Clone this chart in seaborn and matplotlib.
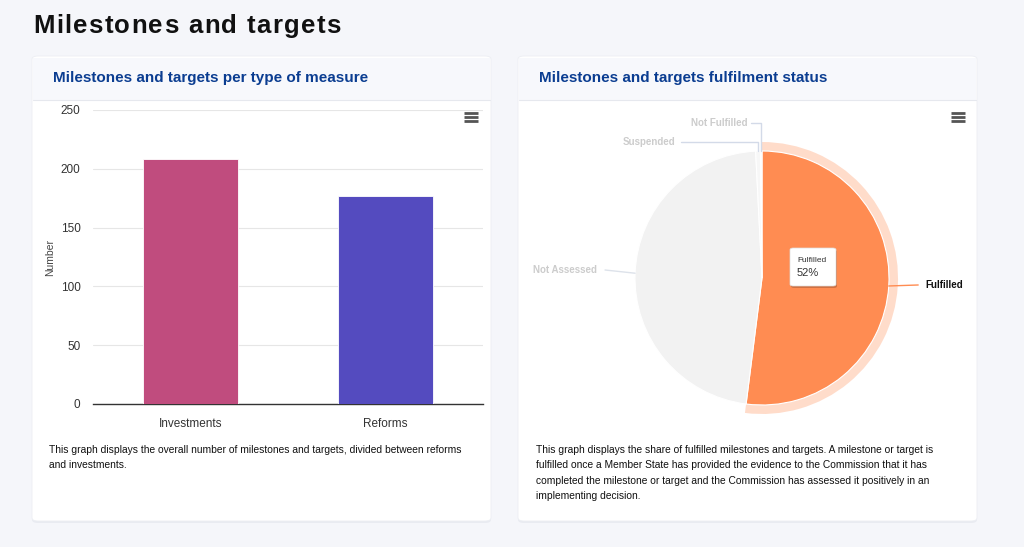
import numpy as np
import pandas as pd
import matplotlib
matplotlib.use("Agg")
import matplotlib.pyplot as plt
import seaborn as sns
from matplotlib.patches import FancyBboxPatch, Wedge, Rectangle
from matplotlib.lines import Line2D

# Donnees
MEASURE_TYPES = ["Investments", "Reforms"]
MEASURE_COUNTS = [208, 177]
MEASURE_COLORS = ["#c04c7e", "#544bbf"]
Y_TICKS = [0, 50, 100, 150, 200, 250]

STATUS_LABELS = ["Fulfilled", "Not Assessed", "Suspended", "Not Fulfilled"]
STATUS_SHARES = [52.0, 47.2, 0.6, 0.2]
STATUS_COLORS = ["#ff8c52", "#f2f2f2", "#f7f7f7", "#fbfbfb"]

W, H = 1024, 547
BG = "#f5f6fa"
TITLE_BLUE = "#0b3d91"

sns.set_theme(style="white")
plt.rcParams["font.family"] = ["Liberation Sans", "DejaVu Sans"]


def fx(x):
    return x / W


def fy(y):
    return 1 - y / H


def card(fig, x0, y0, x1, y1, title):
    # ombre + carte + bandeau (sous les axes)
    shadow = FancyBboxPatch((fx(x0), fy(y1 + 2)), fx(x1 - x0), (y1 - y0) / H,
                            boxstyle="round,pad=0,rounding_size=0.006",
                            transform=fig.transFigure, fc="#e9ebf1", ec="none", zorder=-4)
    fig.add_artist(shadow)
    box = FancyBboxPatch((fx(x0), fy(y1)), fx(x1 - x0), (y1 - y0) / H,
                         boxstyle="round,pad=0,rounding_size=0.006",
                         transform=fig.transFigure, fc="white", ec="#eceef3", lw=0.6, zorder=-3)
    fig.add_artist(box)
    head = Rectangle((fx(x0 + 1), fy(100)), fx(x1 - x0 - 2), (100 - y0 - 2) / H,
                     transform=fig.transFigure, fc="#f7f8fc", ec="none", zorder=-2)
    fig.add_artist(head)
    fig.add_artist(Line2D([fx(x0 + 1), fx(x1 - 1)], [fy(100), fy(100)],
                          transform=fig.transFigure, color="#e6e8ee", lw=0.8, zorder=-1))
    fig.text(fx(x0 + 21), fy(78), title, fontsize=11, fontweight="bold",
             color=TITLE_BLUE, va="center", ha="left")


def burger(fig, x, y):
    for dy in (-4, 0, 4):
        fig.add_artist(Line2D([fx(x - 7), fx(x + 7)], [fy(y + dy), fy(y + dy)],
                              transform=fig.transFigure, color="#555555", lw=2,
                              solid_capstyle="butt", zorder=5))


def spaced_text(fig, x, y, s, tracking, **kw):
    # texte avec espacement des lettres (pas de letter-spacing dans matplotlib)
    renderer = fig.canvas.get_renderer()
    for ch in s:
        t = fig.text(fx(x), fy(y), ch, ha="left", va="baseline", **kw)
        if ch == " ":
            probe = fig.text(0, 0, "a a", **kw)
            probe2 = fig.text(0, 0, "aa", **kw)
            adv = probe.get_window_extent(renderer).width - probe2.get_window_extent(renderer).width
            probe.remove()
            probe2.remove()
        else:
            adv = t.get_window_extent(renderer).width
        x += adv + tracking


fig = plt.figure(figsize=(W / 100, H / 100), dpi=100, facecolor=BG)

spaced_text(fig, 33, 33, "Milestones and targets", 1.35, fontsize=18.5, fontweight="bold",
            color="#111111")

card(fig, 32, 56, 491, 521, "Milestones and targets per type of measure")
card(fig, 518, 56, 977, 521, "Milestones and targets fulfilment status")
burger(fig, 471, 117)
burger(fig, 958, 117)

# --- Barres ---
ax = fig.add_axes([fx(93), fy(404), fx(483 - 93), (404 - 110) / H])
ax.set_facecolor("none")
df = pd.DataFrame({"type": MEASURE_TYPES, "count": MEASURE_COUNTS})
sns.barplot(data=df, x="type", y="count", hue="type", palette=MEASURE_COLORS,
            saturation=1, width=0.485, legend=False, ax=ax, zorder=3,
            edgecolor="white", linewidth=0.6)
ax.set_ylim(0, 250)
ax.set_yticks(Y_TICKS)
ax.yaxis.grid(True, color="#e6e6e6", lw=0.8, zorder=0)
ax.set_axisbelow(True)
for s in ("top", "right", "left"):
    ax.spines[s].set_visible(False)
ax.spines["bottom"].set_color("#333333")
ax.spines["bottom"].set_linewidth(1)
ax.tick_params(axis="both", length=0, labelsize=8.5, colors="#333333")
ax.tick_params(axis="y", pad=9)
ax.tick_params(axis="x", pad=10)
ax.set_xlabel("")
ax.set_ylabel("")
fig.text(fx(50), fy(257), "Number", rotation=90, fontsize=7.5, color="#444444",
         va="center", ha="center")

fig.text(fx(49), fy(450), "This graph displays the overall number of milestones and targets, "
         "divided between reforms", fontsize=7.35, color="#111111", va="center")
fig.text(fx(49), fy(465), "and investments.", fontsize=7.35, color="#111111", va="center")

# --- Camembert ---
R = 127.0
cx, cy = 762, 278
hw, hh = 230, 170
pax = fig.add_axes([fx(cx - hw), fy(cy + hh), fx(2 * hw), 2 * hh / H])
pax.axis("off")
wedges, _ = pax.pie(STATUS_SHARES, colors=STATUS_COLORS, startangle=90, counterclock=False,
                    radius=1, wedgeprops=dict(edgecolor="white", linewidth=0.8))
pax.set_xlim(-hw / R, hw / R)
pax.set_ylim(-hh / R, hh / R)
pax.set_aspect("equal")

# halo de survol sur "Fulfilled"
w0 = wedges[0]
pax.add_patch(Wedge((0, 0), 1 + 9 / R, w0.theta1, w0.theta2, width=9 / R,
                    fc=STATUS_COLORS[0], alpha=0.3, ec="none", zorder=0))

label_pos = {
    "Fulfilled": (1.29, -0.055, 1.23, "left"),
    "Not Assessed": (-1.30, 0.063, -1.236, "right"),
    "Suspended": (-0.685, 1.071, -0.638, "right"),
    "Not Fulfilled": (-0.118, 1.22, -0.087, "right"),
}
for wdg, lab in zip(wedges, STATUS_LABELS):
    mid = np.deg2rad((wdg.theta1 + wdg.theta2) / 2)
    ex, ey = np.cos(mid), np.sin(mid)
    tx, ty, lx, ha = label_pos[lab]
    if lab == "Fulfilled":
        pax.plot([ex, lx], [ey, ty], color=STATUS_COLORS[0], lw=1, zorder=4)
        txtcol = "#111111"
    elif lab == "Not Assessed":
        pax.plot([ex, lx], [ey, ty], color="#dde2ea", lw=1, zorder=4)
        txtcol = "#cccccc"
    else:
        pax.plot([ex, ex, lx], [ey, ty, ty], color="#d3dae8", lw=1, zorder=4)
        txtcol = "#cccccc"
    pax.text(tx, ty, lab, ha=ha, va="center", fontsize=7, fontweight="bold", color=txtcol)

# infobulle
tip_shadow = FancyBboxPatch((fx(791), fy(288)), fx(46), 38 / H,
                            boxstyle="round,pad=0,rounding_size=0.003",
                            transform=fig.transFigure, fc="#00000030", ec="none", zorder=6)
fig.add_artist(tip_shadow)
tip = FancyBboxPatch((fx(790), fy(286)), fx(46), 38 / H,
                     boxstyle="round,pad=0,rounding_size=0.003",
                     transform=fig.transFigure, fc="white", ec="#dddddd", lw=0.5, zorder=7)
fig.add_artist(tip)
fig.text(fx(797), fy(261), "Fulfilled", fontsize=6, color="#333333", va="center", zorder=8)
fig.text(fx(797), fy(273), f"{STATUS_SHARES[0]:.0f}%", fontsize=8, color="#333333",
         va="center", zorder=8)

desc = ["This graph displays the share of fulfilled milestones and targets. A milestone or target is",
        "fulfilled once a Member State has provided the evidence to the Commission that it has",
        "completed the milestone or target and the Commission has assessed it positively in an",
        "implementing decision."]
for i, line in enumerate(desc):
    fig.text(fx(536), fy(450 + i * 15.4), line, fontsize=7.35, color="#111111", va="center")

fig.savefig("out.png", dpi=100, facecolor=BG)
